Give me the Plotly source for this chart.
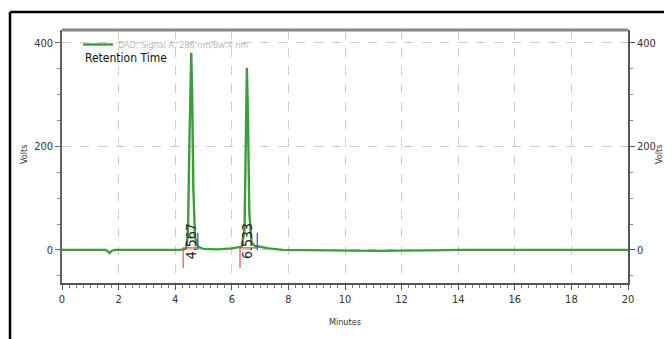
import plotly.graph_objects as go

# chromatogram points (minutes, volts)
time_min = [0.0, 1.0, 1.55, 1.62, 1.68, 1.75, 1.85, 3.0, 4.2, 4.38, 4.45, 4.5, 4.54, 4.567, 4.6, 4.64,
            4.7, 4.8, 5.0, 5.5, 6.0, 6.2, 6.35, 6.45, 6.5, 6.533, 6.57, 6.62, 6.7, 6.8, 7.0, 7.3,
            7.8, 9.0, 11.0, 13.0, 14.0, 16.0, 20.0]
signal_v = [0, 0, 0, -3, -6, -2, 0, 0, 0, 2, 30, 200, 350, 381, 300, 120,
            25, 6, 2, 1, 3, 5, 6, 40, 230, 352, 260, 70, 14, 8, 6, 3,
            0, -1, -2, -1, 0, 0, 0]

peak_rt = [4.567, 6.533]
peak_labels = ["4.567", "6.533"]
peak_start = [4.28, 6.29]
peak_end = [4.8, 6.9]

x_ticks = [0, 2, 4, 6, 8, 10, 12, 14, 16, 18, 20]
y_ticks = [0, 200, 400]

green = "#3f9b3f"
font_fam = "Liberation Sans Narrow, DejaVu Sans Condensed, Arial Narrow, sans-serif"

# the page body adds an 8 px offset; the figure is sized to compensate
OFF = 8
W, H = 672 - OFF, 339 - OFF
L, T = 62 - OFF, 30 - OFF
PW, PH = 566, 253
R, B = W - L - PW, H - T - PH


def px_x(px):
    return (px - OFF - L) / PW


def px_y(py):
    return (H - B - (py - OFF)) / PH


fig = go.Figure()
fig.add_trace(go.Scatter(x=time_min, y=signal_v, mode="lines",
                         line=dict(color=green, width=2.4),
                         name="DAD: Signal A, 286 nm/Bw:4 nm"))

# peak integration marks: red start, blue end, red baseline
for s, e in zip(peak_start, peak_end):
    fig.add_trace(go.Scatter(x=[s, s, e], y=[-35, 4, 4], mode="lines",
                             line=dict(color="#e05050", width=1.2), showlegend=False, hoverinfo="skip"))
    fig.add_trace(go.Scatter(x=[e, e], y=[0, 33], mode="lines",
                             line=dict(color="#4444dd", width=1.2), showlegend=False, hoverinfo="skip"))

# dummy trace for right axis
fig.add_trace(go.Scatter(x=[0], y=[0], yaxis="y2", mode="lines", line=dict(width=0),
                         showlegend=False, hoverinfo="skip"))

for rt, lab in zip(peak_rt, peak_labels):
    fig.add_annotation(x=rt, y=17, text=lab, textangle=-90, showarrow=False,
                       xanchor="center", yanchor="middle",
                       font=dict(family=font_fam, size=14, color="#222"))

fig.add_annotation(x=px_x(83), y=px_y(58), xref="paper", yref="paper", text="Retention Time",
                   showarrow=False, xanchor="left", yanchor="middle",
                   font=dict(family=font_fam, size=12, color="#111"))

title_font = dict(family=font_fam, size=9, color="#333")
fig.add_annotation(x=px_x(345), y=px_y(322), xref="paper", yref="paper", text="Minutes",
                   showarrow=False, xanchor="center", yanchor="middle", font=title_font)
fig.add_annotation(x=px_x(24), y=px_y(155), xref="paper", yref="paper", text="Volts",
                   textangle=-90, showarrow=False, xanchor="center", yanchor="middle", font=title_font)
fig.add_annotation(x=px_x(659), y=px_y(155), xref="paper", yref="paper", text="Volts",
                   textangle=-90, showarrow=False, xanchor="center", yanchor="middle", font=title_font)

axis_font = dict(family=font_fam, size=11, color="#333")

fig.update_layout(
    width=W, height=H,
    margin=dict(l=L, r=R, t=T, b=B, autoexpand=False),
    paper_bgcolor="white", plot_bgcolor="white",
    showlegend=True,
    legend=dict(x=px_x(78), y=px_y(30), xanchor="left", yanchor="top", bgcolor="rgba(0,0,0,0)",
                font=dict(family=font_fam, size=9, color="#bbbbbb"),
                itemwidth=30, tracegroupgap=0),
    xaxis=dict(range=[0, 20], tickvals=x_ticks, showgrid=True, automargin=False,
               gridcolor="#cccccc", griddash="dash", gridwidth=1,
               showline=True, linecolor="#555", linewidth=2, mirror=False,
               ticks="outside", ticklen=5, tickcolor="#555",
               minor=dict(dtick=0.25, ticks="outside", ticklen=3, tickcolor="#777", showgrid=False),
               tickfont=axis_font, zeroline=False),
    yaxis=dict(range=[-64, 425], tickvals=y_ticks, showgrid=True, automargin=False,
               gridcolor="#cccccc", griddash="dash", gridwidth=1,
               showline=True, linecolor="#666", linewidth=1.5,
               ticks="outside", ticklen=5, tickcolor="#666",
               minor=dict(dtick=50, ticks="outside", ticklen=3, tickcolor="#888", showgrid=False),
               tickfont=axis_font, zeroline=False),
    yaxis2=dict(range=[-64, 425], tickvals=y_ticks, overlaying="y", side="right", automargin=False,
                showgrid=False, showline=True, linecolor="#555", linewidth=1.5,
                ticks="outside", ticklen=5, tickcolor="#555",
                minor=dict(dtick=50, ticks="outside", ticklen=3, tickcolor="#888"),
                tickfont=axis_font, zeroline=False),
)

# top frame line of plot area
fig.add_shape(type="line", xref="paper", yref="paper", x0=0, x1=1, y0=1, y1=1,
              line=dict(color="#888", width=3))
# outer black border (top and left)
fig.add_shape(type="line", xref="paper", yref="paper", x0=px_x(10), x1=px_x(672),
              y0=px_y(12), y1=px_y(12), line=dict(color="black", width=2.5))
fig.add_shape(type="line", xref="paper", yref="paper", x0=px_x(10), x1=px_x(10),
              y0=px_y(12), y1=px_y(339), line=dict(color="black", width=2.5))

fig.write_html("out.html")
